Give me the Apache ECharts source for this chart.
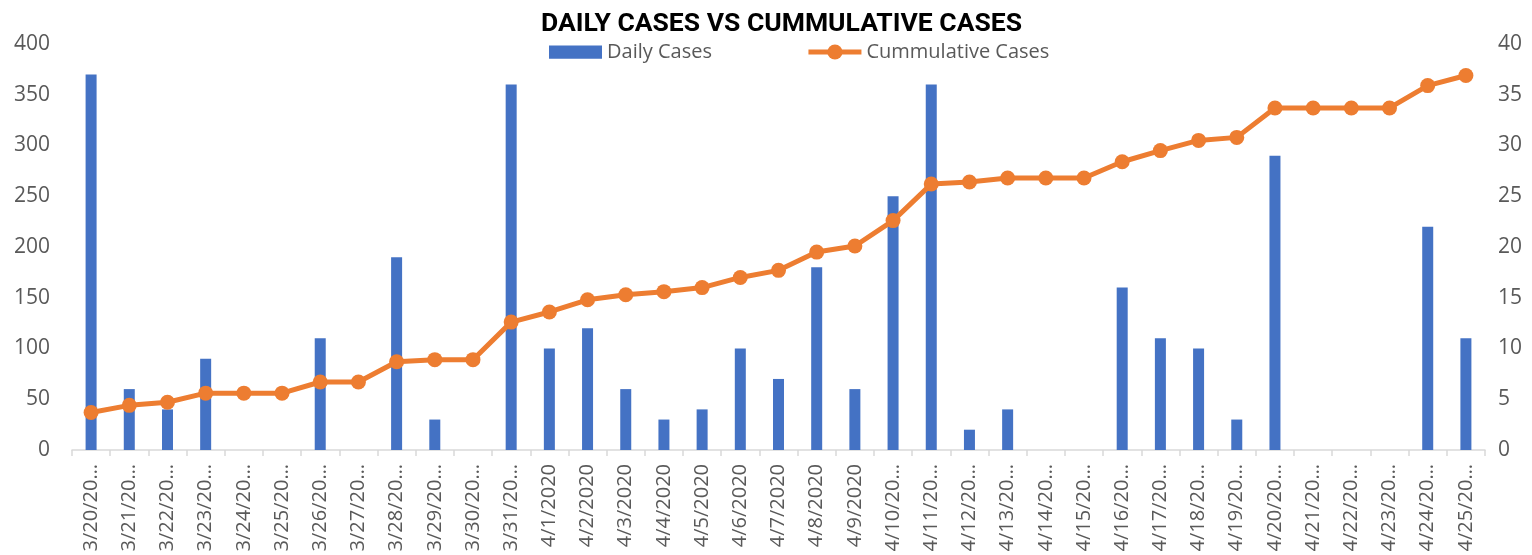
<!DOCTYPE html>
<html><head><meta charset="utf-8">
<script src="https://cdn.jsdelivr.net/npm/echarts@6/dist/echarts.min.js"></script>
<style>html,body{margin:0;padding:0;background:#fff}#c{width:1532px;height:555px}</style>
</head><body><div id="c"></div>
<script>
const categories = ["3/20/2020","3/21/2020","3/22/2020","3/23/2020","3/24/2020","3/25/2020","3/26/2020","3/27/2020","3/28/2020","3/29/2020","3/30/2020","3/31/2020","4/1/2020","4/2/2020","4/3/2020","4/4/2020","4/5/2020","4/6/2020","4/7/2020","4/8/2020","4/9/2020","4/10/2020","4/11/2020","4/12/2020","4/13/2020","4/14/2020","4/15/2020","4/16/2020","4/17/2020","4/18/2020","4/19/2020","4/20/2020","4/21/2020","4/22/2020","4/23/2020","4/24/2020","4/25/2020"];
const dailyCases = [370,60,40,90,0,0,110,0,190,30,0,360,100,120,60,30,40,100,70,180,60,250,360,20,40,0,0,160,110,100,30,290,0,0,0,220,110];
const cumulativeCases = [3.7,4.4,4.7,5.6,5.6,5.6,6.7,6.7,8.7,8.9,8.9,12.6,13.6,14.8,15.3,15.6,16.0,17.0,17.7,19.5,20.1,22.6,26.2,26.4,26.8,26.8,26.8,28.4,29.5,30.5,30.8,33.7,33.7,33.7,33.7,35.9,36.9];
const leftTicks = [0,400,50];
const rightTicks = [0,40,5];

const font = "'Open Sans', 'Liberation Sans', sans-serif";
const chart = echarts.init(document.getElementById('c'), null, {renderer:'canvas'});
chart.setOption({
  animation:false,
  title:{text:'DAILY CASES VS CUMMULATIVE CASES', left:536, top:6,
    textStyle:{fontFamily:"Roboto, 'Liberation Sans', sans-serif", fontWeight:'bold', fontSize:26.5, color:'#000'}},
  legend:{left:544, top:37, itemWidth:53, itemHeight:19, itemGap:94,
    lineStyle:{width:5}, symbolKeepAspect:true,
    textStyle:{fontFamily:font, fontSize:20, color:'#595959'},
    data:[{name:'Daily Cases', icon:'path://M0,0H52V13H0Z'},{name:'Cummulative Cases'}]},
  grid:{left:72, right:47, top:44, bottom:105, containLabel:false},
  xAxis:{type:'category', data:categories, boundaryGap:true,
    axisLine:{lineStyle:{color:'#D9D9D9', width:1.5}},
    axisTick:{show:true, alignWithLabel:false, length:6, lineStyle:{color:'#D9D9D9', width:1.5}},
    axisLabel:{rotate:90, interval:0, fontFamily:font, fontSize:20, color:'#595959', margin:14,
      width:92, overflow:'truncate', ellipsis:'…'}},
  yAxis:[
    {type:'value', min:leftTicks[0], max:leftTicks[1], interval:leftTicks[2], splitLine:{show:false},
      axisLine:{show:false}, axisTick:{show:false},
      axisLabel:{fontFamily:font, fontSize:21, color:'#595959', margin:22}},
    {type:'value', min:rightTicks[0], max:rightTicks[1], interval:rightTicks[2], splitLine:{show:false},
      axisLine:{show:false}, axisTick:{show:false},
      axisLabel:{fontFamily:font, fontSize:21, color:'#595959', margin:13}}
  ],
  series:[
    {name:'Daily Cases', type:'bar', data:dailyCases, barWidth:11, yAxisIndex:0,
      itemStyle:{color:'#4472C4'}},
    {name:'Cummulative Cases', type:'line', data:cumulativeCases, yAxisIndex:1,
      symbol:'circle', symbolSize:15, lineStyle:{color:'#ED7D31', width:5},
      itemStyle:{color:'#ED7D31'}}
  ]
});
</script></body></html>
